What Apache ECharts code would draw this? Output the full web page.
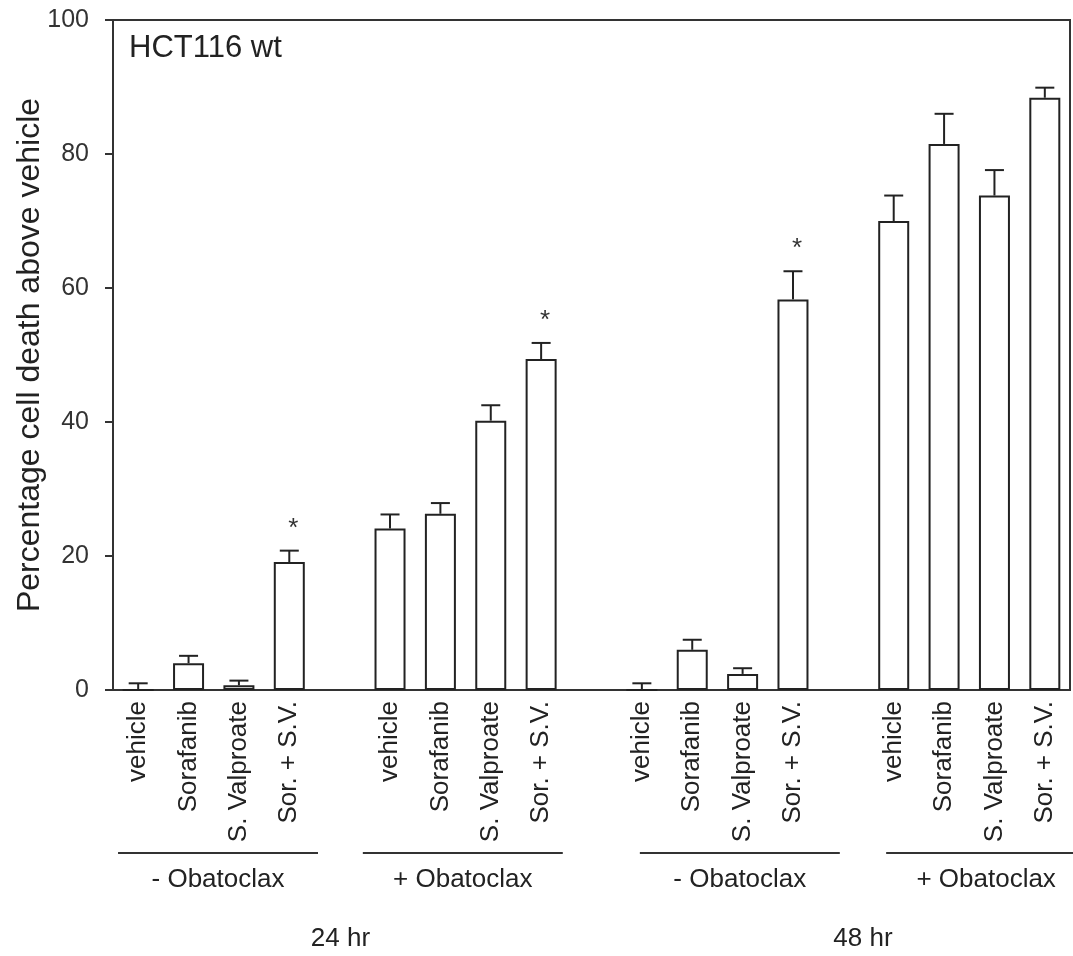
<!DOCTYPE html>
<html>
<head>
<meta charset="utf-8">
<title>HCT116 wt cell death</title>
<script src="https://cdn.jsdelivr.net/npm/echarts@6/dist/echarts.min.js"></script>
<style>
  html, body { margin: 0; padding: 0; background: #fff; }
  #chart { width: 1073px; height: 956px; }
</style>
</head>
<body>
<div id="chart"></div>
<script>
// Treatments shown within every Obatoclax group
const treatments = ['vehicle', 'Sorafanib', 'S. Valproate', 'Sor. + S.V.'];
const obatoclaxGroups = ['- Obatoclax', '+ Obatoclax', '- Obatoclax', '+ Obatoclax'];
const timePoints = ['24 hr', '48 hr'];

// Mean percentage cell death above vehicle
const minusObat24 = [0, 4.0, 0.7, 19.1];
const plusObat24 = [24.1, 26.3, 40.2, 49.4];
const minusObat48 = [0, 6.0, 2.4, 58.3];
const plusObat48 = [70.0, 81.5, 73.8, 88.4];

// Upper error (SEM)
const minusObat24Err = [1.0, 1.1, 0.7, 1.7];
const plusObat24Err = [2.1, 1.6, 2.3, 2.4];
const minusObat48Err = [1.0, 1.5, 0.85, 4.2];
const plusObat48Err = [3.8, 4.5, 3.8, 1.5];

// Significance markers (*)
const minusObat24Sig = [0, 0, 0, 1];
const plusObat24Sig = [0, 0, 0, 1];
const minusObat48Sig = [0, 0, 0, 1];
const plusObat48Sig = [0, 0, 0, 0];

const yTicks = { min: 0, max: 100, interval: 20 };

const groupMeans = [minusObat24, plusObat24, minusObat48, plusObat48];
const groupErrs = [minusObat24Err, plusObat24Err, minusObat48Err, plusObat48Err];
const groupSigs = [minusObat24Sig, plusObat24Sig, minusObat48Sig, plusObat48Sig];

// One empty slot separates neighbouring groups on the category axis
const categories = [];
const barData = [];
const errData = [];
groupMeans.forEach(function (vals, g) {
  if (g > 0) { categories.push(''); barData.push('-'); }
  vals.forEach(function (v, t) {
    const slot = categories.length;
    categories.push(treatments[t]);
    barData.push(v);
    errData.push([slot, v, groupErrs[g][t], groupSigs[g][t]]);
  });
});

const FONT = '"Liberation Sans", Arial, sans-serif';
const INK = '#222';

const chart = echarts.init(document.getElementById('chart'), null, { renderer: 'canvas' });

chart.setOption({
  animation: false,
  backgroundColor: '#fff',
  title: {
    text: 'HCT116 wt',
    left: 129, top: 33, padding: 0,
    textStyle: { fontFamily: FONT, fontSize: 31, fontWeight: 'normal', color: INK }
  },
  grid: {
    left: 113, right: 3, top: 20, bottom: 266,
    outerBoundsMode: 'none',
    show: true, borderColor: '#333', borderWidth: 2, backgroundColor: 'transparent'
  },
  xAxis: {
    type: 'category',
    data: categories,
    boundaryGap: true,
    axisLine: { show: true, lineStyle: { color: '#333', width: 2 } },
    axisTick: { show: false },
    splitLine: { show: false },
    axisLabel: {
      interval: 0, rotate: 90, margin: 11,
      fontFamily: FONT, fontSize: 26, color: INK
    }
  },
  yAxis: {
    type: 'value',
    min: yTicks.min, max: yTicks.max, interval: yTicks.interval,
    name: 'Percentage cell death above vehicle',
    nameLocation: 'middle', nameGap: 67, nameMoveOverlap: false,
    nameTextStyle: { fontFamily: FONT, fontSize: 32, color: INK },
    axisLine: { show: true, lineStyle: { color: '#333', width: 2 } },
    axisTick: { show: true, inside: false, length: 8, lineStyle: { color: '#333', width: 2 } },
    splitLine: { show: false },
    axisLabel: { margin: 24, fontFamily: FONT, fontSize: 25, color: '#333' }
  },
  series: [
    {
      type: 'bar',
      data: barData,
      barWidth: 31,
      itemStyle: { color: '#fff', borderColor: INK, borderWidth: 2 },
      z: 2
    },
    {
      type: 'custom',
      data: errData,
      encode: { x: 0, y: 1 },
      z: 3,
      renderItem: function (params, api) {
        const slot = api.value(0);
        const mean = api.value(1);
        const err = api.value(2);
        const sig = api.value(3);
        const base = api.coord([slot, mean]);
        const top = api.coord([slot, mean + err]);
        const half = 9.5;
        const style = { stroke: INK, lineWidth: 2 };
        const children = [
          { type: 'line', shape: { x1: base[0], y1: base[1], x2: top[0], y2: top[1] }, style: style },
          { type: 'line', shape: { x1: top[0] - half, y1: top[1], x2: top[0] + half, y2: top[1] }, style: style }
        ];
        if (sig) {
          children.push({
            type: 'text',
            style: {
              text: '*', x: top[0] + 4, y: top[1] - 9,
              align: 'center', verticalAlign: 'bottom',
              font: '26px ' + FONT, fill: '#333'
            }
          });
        }
        return { type: 'group', children: children };
      }
    }
  ]
});

// Group brackets and labels beneath the rotated treatment names
function drawGroupLabels() {
  const x0 = chart.convertToPixel({ xAxisIndex: 0 }, 0);
  const x1 = chart.convertToPixel({ xAxisIndex: 0 }, 1);
  const step = x1 - x0;
  const slotX = function (s) { return x0 + s * step; };

  const lineY = 853, groupLabelY = 880, timeLabelY = 939;
  const lineStart = [-0.4, 4.46, 9.96, 14.85];   // bracket start, in slots
  const lineLen = 3.97;                          // bracket length, in slots

  const elements = [];
  const centers = [];
  obatoclaxGroups.forEach(function (name, g) {
    const a = slotX(lineStart[g]);
    const b = slotX(lineStart[g] + lineLen);
    centers.push((a + b) / 2);
    elements.push({
      type: 'line',
      shape: { x1: a, y1: lineY, x2: b, y2: lineY },
      style: { stroke: '#333', lineWidth: 2 }
    });
    elements.push({
      type: 'text',
      x: (a + b) / 2, y: groupLabelY,
      style: { text: name, font: '26px ' + FONT, fill: INK, align: 'center', verticalAlign: 'middle' }
    });
  });
  timePoints.forEach(function (name, i) {
    const cx = (centers[2 * i] + centers[2 * i + 1]) / 2;
    elements.push({
      type: 'text',
      x: cx, y: timeLabelY,
      style: { text: name, font: '26px ' + FONT, fill: INK, align: 'center', verticalAlign: 'middle' }
    });
  });
  chart.setOption({ graphic: { elements: elements } });
}
drawGroupLabels();
</script>
</body>
</html>
